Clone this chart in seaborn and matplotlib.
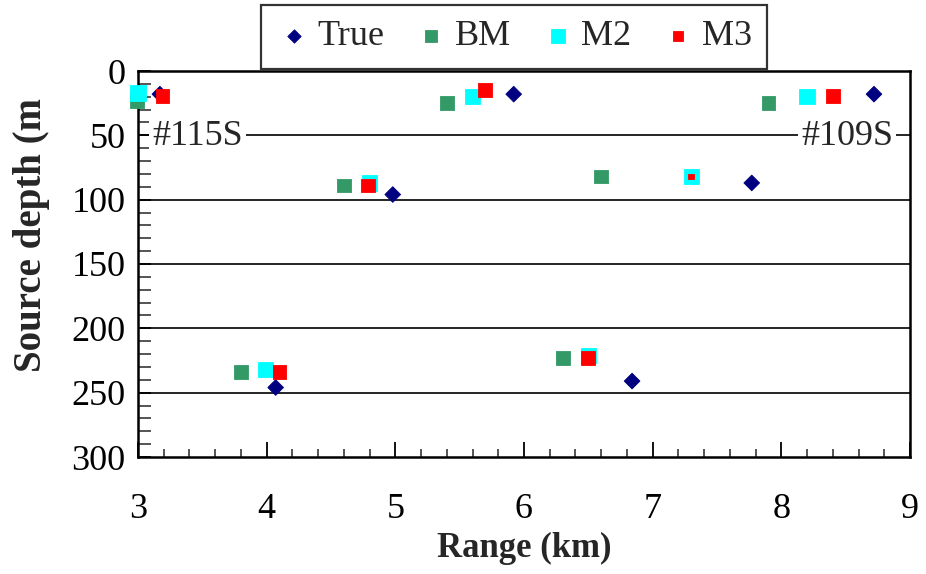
import matplotlib
matplotlib.use("Agg")
import matplotlib.pyplot as plt
from matplotlib.ticker import MultipleLocator
import pandas as pd
import seaborn as sns

# Source localisation results: range (km) vs. source depth (m)
true_range = [3.17, 4.98, 5.92, 4.07, 6.84, 7.77, 8.72]
true_depth = [18, 96, 18, 246, 241, 87, 18]

bm_range = [2.99, 4.60, 5.40, 3.80, 6.30, 6.60, 7.90]
bm_depth = [23, 89, 25, 234, 223, 82, 25]

m2_range = [3.00, 4.80, 5.60, 3.99, 6.50, 7.30, 8.20]
m2_depth = [17, 87, 20, 232, 221, 82, 20]

m3_range = [3.19, 4.79, 5.70, 4.10, 6.50, 7.30, 8.40]
m3_depth = [19.5, 89, 15, 234, 223, 82, 19.5]

x_ticks = [3, 4, 5, 6, 7, 8, 9]
y_ticks = [0, 50, 100, 150, 200, 250, 300]

sns.set_theme(style="white")
plt.rcParams["font.family"] = ["Liberation Serif", "DejaVu Serif"]

fig = plt.figure(figsize=(9.26, 5.74), dpi=100)
ax = fig.add_axes([138 / 926, 1 - 457 / 574, 772 / 926, 386 / 574])

series = [
    ("True", true_range, true_depth, "D", "#000080", 64),
    ("BM", bm_range, bm_depth, "s", "#339966", 100),
    ("M2", m2_range, m2_depth, "s", "#00FFFF", 125),
    ("M3", m3_range, m3_depth, "s", "#FF0000", 100),
]

# horizontal grid lines
for yv in y_ticks[1:-1]:
    ax.axhline(yv, color="black", lw=1.2, zorder=1)

draw_order = ["BM", "M2", "True", "M3"]
lookup = {s[0]: s for s in series}
for name in draw_order:
    label, xs, ys, mk, col, sz = lookup[name]
    df = pd.DataFrame({"range": xs, "depth": ys})
    sizes = [sz] * len(xs)
    if label == "M3":
        # the 7.3 km estimate coincides with M2 and is drawn as a small dot
        sizes = [sz if abs(x - 7.3) > 1e-6 else 18 for x in xs]
    sns.scatterplot(data=df, x="range", y="depth", marker=mk, s=sizes,
                    color=col, edgecolor=col, linewidth=0.6, zorder=3,
                    label=label, clip_on=False, ax=ax, legend=False)

ax.set_xlim(3, 9)
ax.set_ylim(300, 0)
ax.set_xticks(x_ticks)
ax.set_yticks(y_ticks)
ax.xaxis.set_minor_locator(MultipleLocator(0.2))
ax.yaxis.set_minor_locator(MultipleLocator(10))
ax.tick_params(axis="x", which="major", direction="in", length=11, width=1.3,
               pad=26, labelsize=26, bottom=True, top=False, colors="black")
ax.tick_params(axis="x", which="minor", direction="in", length=6, width=1.1,
               bottom=True, top=False)
ax.tick_params(axis="y", which="major", direction="in", length=9, width=1.3,
               pad=9, labelsize=26, left=True, right=False, colors="black")
ax.tick_params(axis="y", which="minor", direction="in", length=9, width=1.1,
               left=True, right=False)

for sp in ax.spines.values():
    sp.set_color("black")
    sp.set_linewidth(1.8)

ax.set_xlabel("Range (km)", fontsize=25, fontweight="bold", labelpad=4)
ax.set_ylabel("")
fig.text(0.034, 1 - 235 / 574, "Source depth (m", rotation=90, fontsize=28,
         fontweight="bold", ha="center", va="center")

bbox = dict(facecolor="white", edgecolor="none", pad=2)
ax.text(3.11, 51, "#115S", fontsize=26, ha="left", va="center", bbox=bbox, zorder=2)
ax.text(8.87, 51, "#109S", fontsize=26, ha="right", va="center", bbox=bbox, zorder=2)

handles, labels = ax.get_legend_handles_labels()
order = [labels.index(n) for n in ["True", "BM", "M2", "M3"]]
leg = fig.legend([handles[i] for i in order], [labels[i] for i in order],
                 loc="upper center", bbox_to_anchor=(514 / 926, 1 - 5 / 574),
                 ncol=4, fontsize=26, frameon=True, fancybox=False,
                 borderaxespad=0, handletextpad=0.15, columnspacing=0.8,
                 borderpad=0.42, handlelength=1.0, markerscale=0.85)
leg.get_frame().set_edgecolor("black")
leg.get_frame().set_linewidth(1.6)

fig.savefig("out.png", dpi=100)
